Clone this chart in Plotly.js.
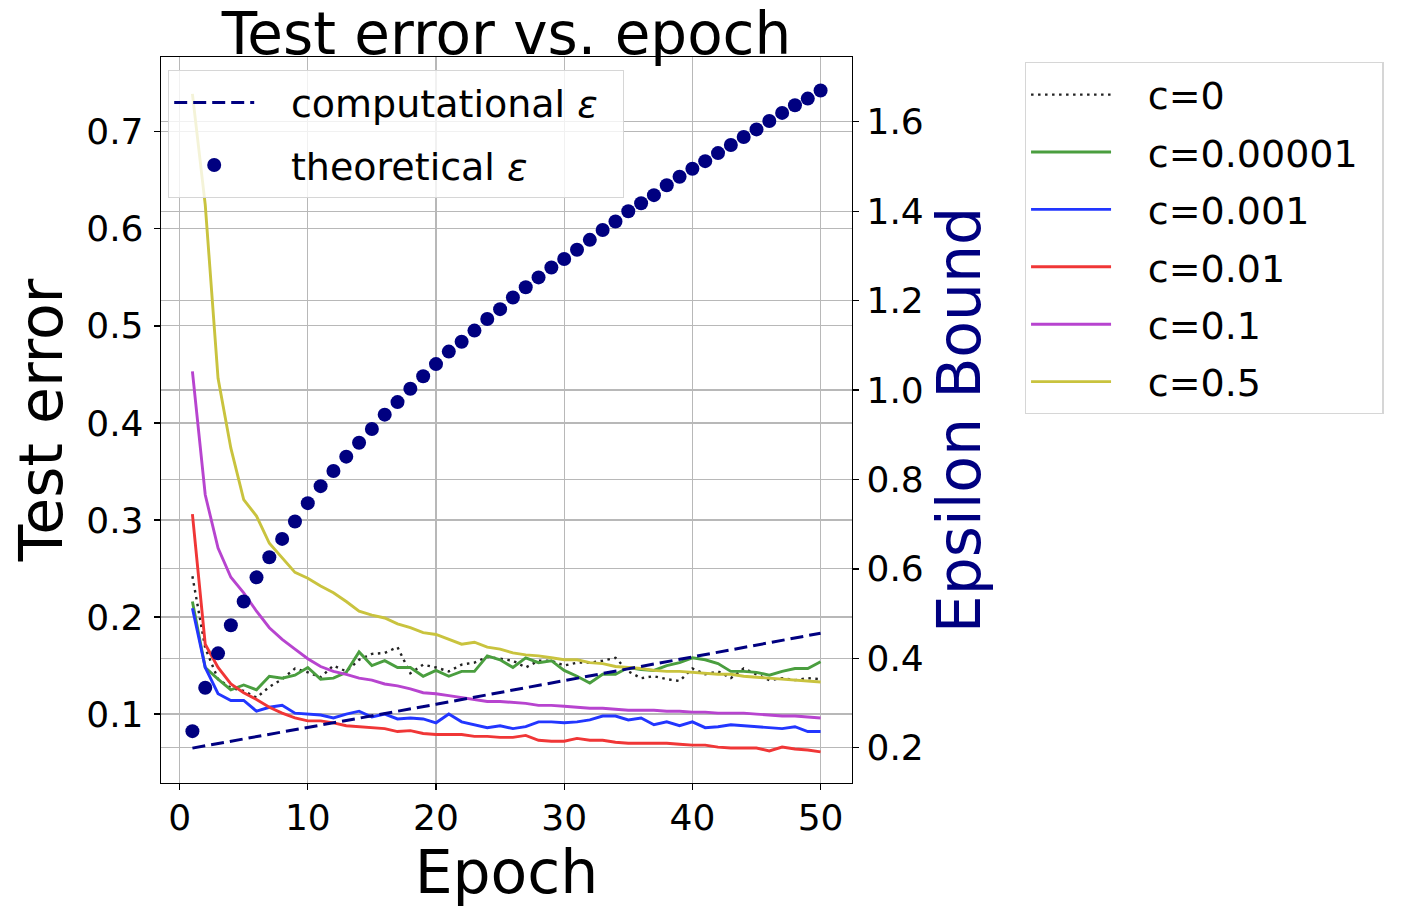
<!DOCTYPE html>
<html>
<head>
<meta charset="utf-8">
<script src="https://cdn.plot.ly/plotly-3.0.1.min.js"></script>
<style>html,body{margin:0;padding:0;background:#fff;}#chart{width:1417px;height:912px;}</style>
</head>
<body>
<div id="chart"></div>
<script>
const epochs = [1,2,3,4,5,6,7,8,9,10,11,12,13,14,15,16,17,18,19,20,21,22,23,24,25,26,27,28,29,30,31,32,33,34,35,36,37,38,39,40,41,42,43,44,45,46,47,48,49,50];

const errC0 = [0.242,0.168,0.136,0.127,0.124,0.117,0.128,0.136,0.147,0.143,0.138,0.150,0.144,0.156,0.162,0.163,0.169,0.142,0.151,0.148,0.144,0.151,0.153,0.159,0.157,0.155,0.148,0.155,0.155,0.150,0.153,0.153,0.155,0.158,0.144,0.137,0.139,0.136,0.134,0.147,0.141,0.144,0.137,0.147,0.141,0.135,0.137,0.135,0.137,0.136];
const errC1e5 = [0.216,0.148,0.136,0.125,0.130,0.125,0.139,0.137,0.140,0.148,0.136,0.137,0.143,0.164,0.150,0.155,0.148,0.148,0.139,0.145,0.139,0.144,0.144,0.160,0.156,0.148,0.158,0.153,0.155,0.145,0.139,0.132,0.141,0.141,0.148,0.146,0.145,0.150,0.153,0.158,0.156,0.152,0.144,0.144,0.143,0.140,0.144,0.147,0.147,0.154];
const errC1e3 = [0.209,0.148,0.121,0.114,0.114,0.103,0.107,0.109,0.101,0.100,0.099,0.096,0.100,0.103,0.097,0.100,0.095,0.096,0.095,0.091,0.100,0.092,0.089,0.086,0.088,0.085,0.087,0.092,0.092,0.091,0.092,0.094,0.098,0.098,0.094,0.096,0.089,0.092,0.088,0.092,0.086,0.087,0.089,0.088,0.087,0.086,0.085,0.087,0.082,0.082];
const errC1e2 = [0.306,0.172,0.148,0.131,0.122,0.115,0.107,0.101,0.096,0.093,0.093,0.091,0.088,0.087,0.086,0.085,0.082,0.083,0.080,0.079,0.079,0.079,0.077,0.077,0.076,0.076,0.078,0.073,0.072,0.072,0.075,0.073,0.073,0.071,0.070,0.070,0.070,0.070,0.069,0.068,0.068,0.066,0.065,0.065,0.065,0.062,0.066,0.064,0.063,0.061];
const errC1e1 = [0.453,0.326,0.271,0.241,0.225,0.206,0.189,0.177,0.167,0.157,0.149,0.144,0.141,0.137,0.135,0.131,0.129,0.126,0.122,0.121,0.119,0.117,0.115,0.113,0.113,0.112,0.111,0.109,0.109,0.108,0.107,0.106,0.106,0.105,0.104,0.104,0.104,0.103,0.103,0.102,0.102,0.101,0.101,0.101,0.100,0.099,0.098,0.098,0.097,0.096];
const errC5e1 = [0.739,0.625,0.446,0.374,0.321,0.304,0.276,0.261,0.246,0.240,0.232,0.225,0.216,0.206,0.202,0.199,0.193,0.189,0.184,0.182,0.177,0.172,0.174,0.169,0.167,0.163,0.161,0.160,0.158,0.156,0.156,0.153,0.152,0.149,0.148,0.147,0.145,0.144,0.144,0.143,0.142,0.141,0.141,0.139,0.138,0.137,0.136,0.135,0.134,0.133];

const compEpochs = [1,10,20,30,40,50];
const compEps = [0.199,0.245,0.297,0.350,0.403,0.456];
const theoEps = [0.237,0.334,0.411,0.474,0.527,0.581,0.626,0.667,0.706,0.747,0.785,0.819,0.851,0.882,0.913,0.945,0.973,1.003,1.031,1.058,1.086,1.108,1.133,1.159,1.181,1.207,1.230,1.252,1.274,1.293,1.314,1.336,1.358,1.377,1.400,1.418,1.436,1.458,1.477,1.495,1.512,1.530,1.548,1.566,1.583,1.602,1.620,1.637,1.652,1.670];

const errNames = ['c=0','c=0.00001','c=0.001','c=0.01','c=0.1','c=0.5'];
const epsNames = ['computational <i>ε</i>','theoretical <i>ε</i>'];
const xTicks = [0,10,20,30,40,50];
const yTicks = [0.1,0.2,0.3,0.4,0.5,0.6,0.7];
const y2Ticks = [0.2,0.4,0.6,0.8,1.0,1.2,1.4,1.6];

const errSeries = [errC0, errC1e5, errC1e3, errC1e2, errC1e1, errC5e1];
const errColors = ['#222222','#4a9e3f','#2236ff','#f03636','#b744cf','#c9c33e'];
const errDash = ['2.5px,4.5px','solid','solid','solid','solid','solid'];

const FONT = 'DejaVu Sans, Liberation Sans, sans-serif';
const PAD = '\u00a0\u00a0\u2009';
const TAIL = '\u00a0\u2009';
const traces = [];
errSeries.forEach((ys, i) => {
  traces.push({
    x: epochs, y: ys, name: PAD + errNames[i] + TAIL, type: 'scatter', mode: 'lines',
    line: {color: errColors[i], width: i === 0 ? 2.4 : 2.9, dash: errDash[i]},
    legend: 'legend2', legendgroup: 'g' + i, xaxis: 'x', yaxis: 'y'
  });
});
traces.push({
  x: compEpochs, y: compEps, name: PAD + epsNames[0] + TAIL, type: 'scatter', mode: 'lines',
  line: {color: '#000080', width: 3, dash: '13px,6px'},
  legend: 'legend', legendgroup: 'e1', xaxis: 'x', yaxis: 'y2'
});
traces.push({
  x: epochs, y: theoEps, name: PAD + epsNames[1] + TAIL, type: 'scatter', mode: 'markers',
  marker: {color: '#000080', size: 14},
  legend: 'legend', legendgroup: 'e2', xaxis: 'x', yaxis: 'y2'
});

const axisCommon = {
  showgrid: true, gridcolor: '#b8b8b8', gridwidth: 1.2, zeroline: false,
  showline: true, linecolor: '#000', linewidth: 1.3,
  ticks: 'outside', ticklen: 6, tickcolor: '#000', tickwidth: 1.3,
  tickfont: {size: 36, family: FONT}
};

const layout = {
  width: 1417, height: 912,
  margin: {l: 161, r: 565, t: 57, b: 129},
  paper_bgcolor: '#ffffff', plot_bgcolor: '#ffffff',
  font: {family: FONT, color: '#000000', size: 36},
  showlegend: true,
  title: {text: 'Test error vs. epoch', font: {family: FONT, size: 58, color: '#000'},
          x: 0.5, xref: 'paper', xanchor: 'center', y: 0.963, yref: 'container', yanchor: 'middle'},
  xaxis: Object.assign({}, axisCommon, {
    range: [-1.45, 52.45], tickvals: xTicks, ticktext: xTicks.map(String),
    mirror: true, ticklabelstandoff: -4,
    title: {text: 'Epoch', font: {size: 60, family: FONT}, standoff: 0}
  }),
  yaxis: Object.assign({}, axisCommon, {
    range: [0.029, 0.777], tickvals: yTicks, ticktext: yTicks.map(v => v.toFixed(1)),
    ticklabelstandoff: 3,
    title: {text: 'Test error', font: {size: 60, family: FONT}, standoff: 4}
  }),
  yaxis2: Object.assign({}, axisCommon, {
    overlaying: 'y', side: 'right', anchor: 'x',
    range: [0.121, 1.745], tickvals: y2Ticks, ticktext: y2Ticks.map(v => v.toFixed(1)),
    ticklabelstandoff: 0,
    title: {text: 'Epsilon Bound', font: {size: 60, family: FONT, color: '#000080'}, standoff: 8}
  }),
  legend: {
    x: 0.01, y: 0.982, xref: 'paper', yref: 'paper', xanchor: 'left', yanchor: 'top',
    bgcolor: 'rgba(255,255,255,0.8)', bordercolor: '#d6d6d6', borderwidth: 1.3,
    font: {size: 38, family: FONT}, traceorder: 'grouped', tracegroupgap: 10, itemwidth: 80
  },
  legend2: {
    x: 1.25, y: 0.993, xref: 'paper', yref: 'paper', xanchor: 'left', yanchor: 'top',
    bgcolor: '#ffffff', bordercolor: '#d6d6d6', borderwidth: 1.3,
    font: {size: 38, family: FONT}, traceorder: 'grouped', tracegroupgap: 5, itemwidth: 80
  }
};

Plotly.newPlot('chart', traces, layout, {displayModeBar: false, staticPlot: true});
</script>
</body>
</html>
